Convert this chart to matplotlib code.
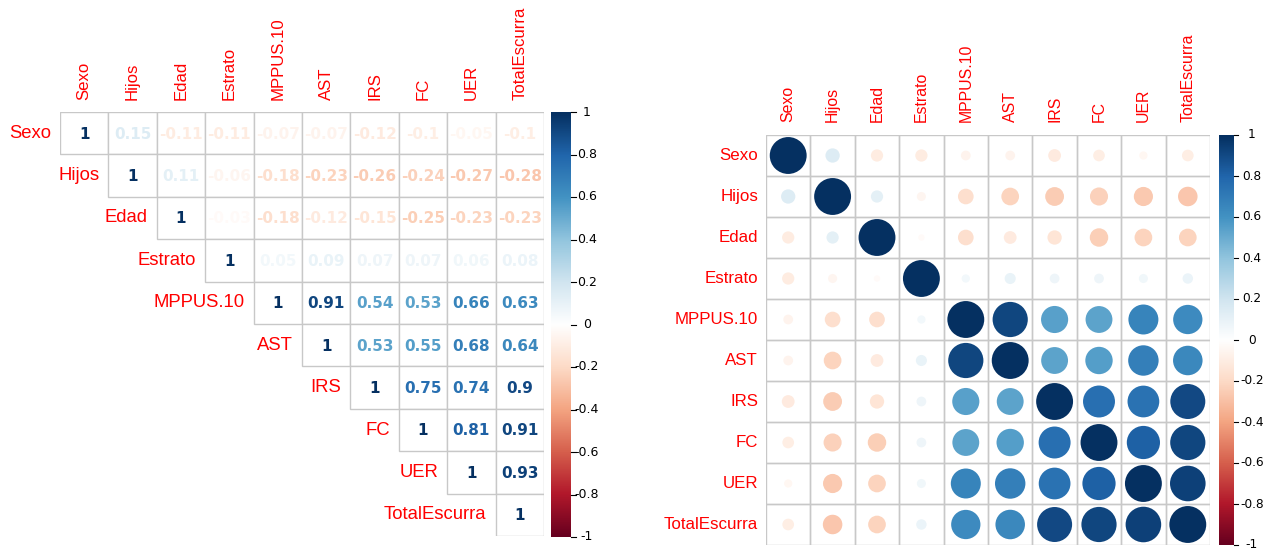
import numpy as np
import matplotlib.pyplot as plt
from matplotlib.colors import LinearSegmentedColormap
from matplotlib.patches import Rectangle
from matplotlib.transforms import offset_copy, blended_transform_factory

plt.rcParams['font.family'] = ['Liberation Sans', 'DejaVu Sans']

# --- datos: matriz de correlacion (triangulo superior, fila por fila) ---
variables = ['Sexo', 'Hijos', 'Edad', 'Estrato', 'MPPUS.10', 'AST', 'IRS', 'FC', 'UER', 'TotalEscurra']

r_sexo = [1, 0.15, -0.11, -0.11, -0.07, -0.07, -0.12, -0.1, -0.05, -0.1]
r_hijos = [1, 0.11, -0.06, -0.18, -0.23, -0.26, -0.24, -0.27, -0.28]
r_edad = [1, -0.03, -0.18, -0.12, -0.15, -0.25, -0.23, -0.23]
r_estrato = [1, 0.05, 0.09, 0.07, 0.07, 0.06, 0.08]
r_mppus = [1, 0.91, 0.54, 0.53, 0.66, 0.63]
r_ast = [1, 0.53, 0.55, 0.68, 0.64]
r_irs = [1, 0.75, 0.74, 0.9]
r_fc = [1, 0.81, 0.91]
r_uer = [1, 0.93]
r_total = [1]

cbar_ticks = [-1, -0.8, -0.6, -0.4, -0.2, 0, 0.2, 0.4, 0.6, 0.8, 1]
cbar_labels = ['-1', '-0.8', '-0.6', '-0.4', '-0.2', '0', '0.2', '0.4', '0.6', '0.8', '1']

rows = [r_sexo, r_hijos, r_edad, r_estrato, r_mppus, r_ast, r_irs, r_fc, r_uer, r_total]
n = len(variables)
corr = np.zeros((n, n))
for i, fila in enumerate(rows):
    corr[i, i:] = fila
    corr[i:, i] = fila

# paleta RdBu de corrplot
cmap = LinearSegmentedColormap.from_list('corrplot', [
    '#67001F', '#B2182B', '#D6604D', '#F4A582', '#FDDBC7', '#FFFFFF',
    '#D1E5F0', '#92C5DE', '#4393C3', '#2166AC', '#053061'], N=200)

def col(v):
    return cmap((v + 1) / 2)

W, H = 1269, 551
fig = plt.figure(figsize=(W / 100, H / 100), dpi=100)

def px_axes(x0, y0, x1, y1):
    return fig.add_axes([x0 / W, 1 - y1 / H, (x1 - x0) / W, (y1 - y0) / H])

def setup(ax):
    ax.set_xlim(0, n)
    ax.set_ylim(n, 0)
    ax.axis('off')

def colorbar(x0, y0, x1, y1, lab_dx, fs):
    cax = px_axes(x0, y0, x1, y1)
    grad = np.linspace(-1, 1, 200).reshape(-1, 1)
    cax.imshow(grad, cmap=cmap, aspect='auto', origin='lower', extent=[0, 1, -1, 1])
    cax.set_xlim(0, 1)
    cax.set_ylim(-1, 1)
    cax.axis('off')
    tr = blended_transform_factory(cax.transAxes, cax.transData)
    for t, lab in zip(cbar_ticks, cbar_labels):
        cax.plot([1, 1.25], [t, t], color='black', lw=0.8, transform=tr, clip_on=False)
        cax.text(1, t, lab, transform=offset_copy(tr, fig, x=lab_dx, units='dots'),
                 ha='center', va='center', fontsize=fs, color='black', family='DejaVu Sans')

# --- Grafica 1: numeros, triangulo superior ---
ax1 = px_axes(60, 112, 544, 536)
setup(ax1)
for i in range(n):
    for j in range(i, n):
        ax1.add_patch(Rectangle((j, i), 1, 1, facecolor='white', edgecolor='#C8C8C8', lw=1))
        ax1.text(j + 0.5, i + 0.52, f'{corr[i, j]:g}', ha='center', va='center',
                 fontsize=11, fontweight='bold', color=col(corr[i, j]), family='DejaVu Sans')
    ax1.text(i, i + 0.5, variables[i], ha='right', va='center', fontsize=13.3, color='red',
             transform=offset_copy(ax1.transData, fig, x=-9, units='dots'))
    ax1.text(i + 0.5, 0, variables[i], ha='center', va='bottom', rotation=90, fontsize=12.1,
             color='red', transform=offset_copy(ax1.transData, fig, y=12, units='dots'))
colorbar(551, 112, 571, 537, 16, 9)

# --- Grafica 2: circulos, matriz completa ---
ax2 = px_axes(766, 135, 1210, 545)
setup(ax2)
cw, ch = (1210 - 766) / n, (545 - 135) / n
dmax = 0.9 * min(cw, ch) * 72 / 100  # diametro en puntos para r = 1
for i in range(n):
    for j in range(n):
        ax2.add_patch(Rectangle((j, i), 1, 1, facecolor='none', edgecolor='#C8C8C8', lw=1))
xs, ys = np.meshgrid(np.arange(n) + 0.5, np.arange(n) + 0.5)
ax2.scatter(xs.ravel(), ys.ravel(), s=(dmax * np.sqrt(np.abs(corr.ravel()))) ** 2,
            c=[col(v) for v in corr.ravel()], linewidths=0, zorder=3)
for i, name in enumerate(variables):
    ax2.text(0, i + 0.5, name, ha='right', va='center', fontsize=12.2, color='red',
             transform=offset_copy(ax2.transData, fig, x=-8, units='dots'))
    ax2.text(i + 0.5, 0, name, ha='center', va='bottom', rotation=90, fontsize=11.4,
             color='red', transform=offset_copy(ax2.transData, fig, y=13, units='dots'))
colorbar(1219, 135, 1234, 545, 18, 8.7)

fig.savefig('out.png', dpi=100)
